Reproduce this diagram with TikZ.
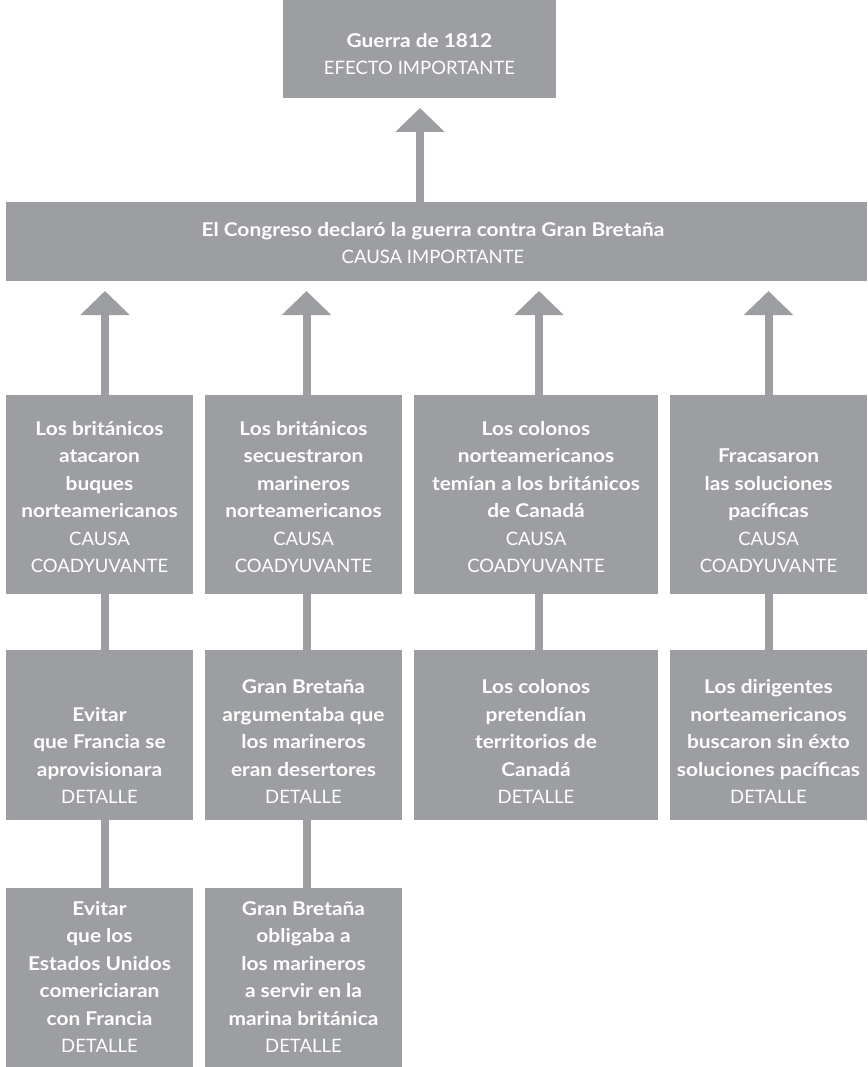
\documentclass[tikz,border=0pt]{standalone}
\usepackage{fontspec}
\setmainfont{Lato}[BoldFeatures={FakeStretch=1.1}]
\usetikzlibrary{arrows.meta,calc}
\definecolor{boxgray}{HTML}{9D9EA2}
\newcommand\boldline[1]{{\fontsize{19}{27.5}\selectfont\bfseries #1}}
\begin{document}
\begin{tikzpicture}[x=1pt,y=-1pt,
  box/.style={fill=boxgray, draw=none, inner sep=0pt, outer sep=0pt, anchor=north west},
  txt/.style={text=white, align=center, inner sep=0pt, anchor=south, font=\fontsize{18.5}{27.5}\selectfont},
  conn/.style={draw=boxgray, line width=8pt},
  up/.style={conn, -{Triangle[width=48pt,length=24pt]}, shorten >=10pt}]
\useasboundingbox (0,0) rectangle (867,1067);

% boxes
\node[box, minimum width=273pt, minimum height=98pt] (top) at (283,0) {};
\node[box, minimum width=861pt, minimum height=79pt] (main) at (6,202) {};
\node[box, minimum width=187pt, minimum height=199pt] (b21) at (6,395) {};
\node[box, minimum width=197pt, minimum height=199pt] (b22) at (205,395) {};
\node[box, minimum width=244pt, minimum height=199pt] (b23) at (414,395) {};
\node[box, minimum width=197pt, minimum height=199pt] (b24) at (670,395) {};
\node[box, minimum width=187pt, minimum height=170pt] (b31) at (6,650) {};
\node[box, minimum width=197pt, minimum height=170pt] (b32) at (205,650) {};
\node[box, minimum width=244pt, minimum height=170pt] (b33) at (414,650) {};
\node[box, minimum width=197pt, minimum height=170pt] (b34) at (670,650) {};
\node[box, minimum width=187pt, minimum height=179pt] (b41) at (6,888) {};
\node[box, minimum width=197pt, minimum height=179pt] (b42) at (205,888) {};

% texts
\node[txt] (ttop) at ($(top.south)+(0,-23)$) {\boldline{Guerra de 1812}\\EFECTO IMPORTANTE};
\node[txt] (tmain) at (433,264) {\boldline{El Congreso declaró la guerra contra Gran Bretaña}\\CAUSA IMPORTANTE};
\node[txt] (t21) at ($(b21.south)+(0,-21)$) {\boldline{Los británicos}\\\boldline{atacaron}\\\boldline{buques}\\\boldline{norteamericanos}\\CAUSA\\COADYUVANTE};
\node[txt] (t22) at ($(b22.south)+(0,-21)$) {\boldline{Los británicos}\\\boldline{secuestraron}\\\boldline{marineros}\\\boldline{norteamericanos}\\CAUSA\\COADYUVANTE};
\node[txt] (t23) at ($(b23.south)+(0,-21)$) {\boldline{Los colonos}\\\boldline{norteamericanos}\\\boldline{temían a los británicos}\\\boldline{de Canadá}\\CAUSA\\COADYUVANTE};
\node[txt] (t24) at ($(b24.south)+(0,-21)$) {\boldline{Fracasaron}\\\boldline{las soluciones}\\\boldline{pacíficas}\\CAUSA\\COADYUVANTE};
\node[txt] (t31) at ($(b31.south)+(0,-16)$) {\boldline{Evitar}\\\boldline{que Francia se}\\\boldline{aprovisionara}\\DETALLE};
\node[txt] (t32) at ($(b32.south)+(0,-16)$) {\boldline{Gran Bretaña}\\\boldline{argumentaba que}\\\boldline{los marineros}\\\boldline{eran desertores}\\DETALLE};
\node[txt] (t33) at ($(b33.south)+(0,-16)$) {\boldline{Los colonos}\\\boldline{pretendían}\\\boldline{territorios de}\\\boldline{Canadá}\\DETALLE};
\node[txt] (t34) at ($(b34.south)+(0,-16)$) {\boldline{Los dirigentes}\\\boldline{norteamericanos}\\\boldline{buscaron sin éxto}\\\boldline{soluciones pacíficas}\\DETALLE};
\node[txt] (t41) at ($(b41.south)+(0,-14)$) {\boldline{Evitar}\\\boldline{que los}\\\boldline{Estados Unidos}\\\boldline{comericiaran}\\\boldline{con Francia}\\DETALLE};
\node[txt] (t42) at ($(b42.south)+(0,-14)$) {\boldline{Gran Bretaña}\\\boldline{obligaba a}\\\boldline{los marineros}\\\boldline{a servir en la}\\\boldline{marina británica}\\DETALLE};

% connectors
\draw[up] ([xshift=0.5pt]top.south |- main.north) -- ([xshift=0.5pt]top.south);
\draw[up] ([xshift=5.5pt]b21.north) -- ([xshift=5.5pt]b21.north |- main.south);
\draw[up] ([xshift=3pt]b22.north) -- ([xshift=3pt]b22.north |- main.south);
\draw[up] ([xshift=3pt]b23.north) -- ([xshift=3pt]b23.north |- main.south);
\draw[up] (b24.north) -- (b24.north |- main.south);
\draw[conn] ([xshift=5.5pt]b21.south) -- ([xshift=5.5pt]b31.north);
\draw[conn] ([xshift=3pt]b22.south) -- ([xshift=3pt]b32.north);
\draw[conn] ([xshift=3pt]b23.south) -- ([xshift=3pt]b33.north);
\draw[conn] (b24.south) -- (b34.north);
\draw[conn] ([xshift=5.5pt]b31.south) -- ([xshift=5.5pt]b41.north);
\draw[conn] ([xshift=3pt]b32.south) -- ([xshift=3pt]b42.north);
\end{tikzpicture}
\end{document}
